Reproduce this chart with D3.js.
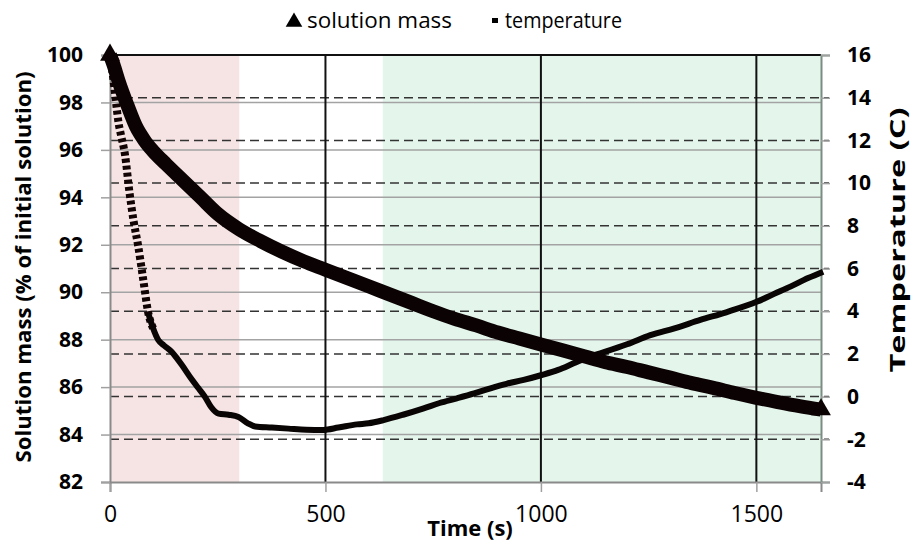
<!DOCTYPE html>
<html lang="en">
<head>
    <meta charset="UTF-8">
    <title>Solution mass and temperature</title>
    <script src="https://d3js.org/d3.v7.js"></script>
    <style>
        body { margin: 0; background: #fff; }
        text { font-family: "Open Sans", Lato, sans-serif; fill: #000; }
    </style>
</head>
<body>
<svg></svg>
<script>
    // solution mass (% of initial solution) against time (s)
    let massTime = [0, 8, 20, 40, 60, 80, 100, 130, 170, 210, 250, 300, 350, 400, 450, 500,
        550, 600, 650, 700, 750, 800, 850, 900, 950, 1000, 1050, 1100, 1150, 1200, 1250,
        1300, 1350, 1400, 1450, 1500, 1550, 1600, 1650];
    let massPct = [100, 99.6, 98.9, 97.9, 97.0, 96.4, 95.95, 95.4, 94.7, 94.0, 93.3, 92.65,
        92.15, 91.7, 91.3, 90.95, 90.6, 90.25, 89.9, 89.55, 89.2, 88.88, 88.6, 88.3, 88.05,
        87.8, 87.55, 87.3, 87.05, 86.85, 86.62, 86.4, 86.17, 85.97, 85.75, 85.55, 85.37,
        85.2, 85.05];

    // temperature (C) against time (s)
    let tempTime = [0, 5, 10, 15, 20, 25, 35, 45, 55, 65, 77, 89, 100, 112, 125, 143, 155,
        166, 190, 205, 220, 235, 252, 275, 298, 320, 337, 375, 414, 455, 495, 530, 573,
        600, 635, 680, 728, 765, 805, 845, 883, 920, 960, 1000, 1040, 1076, 1110, 1138,
        1200, 1254, 1310, 1370, 1430, 1502, 1540, 1579, 1620, 1655];
    let tempC = [16, 15.3, 14.5, 13.6, 12.8, 12.3, 11.3, 9.6, 8.2, 7.1, 5.5, 3.9, 3.2, 2.65,
        2.4, 2.1, 1.8, 1.5, 0.8, 0.4, 0, -0.5, -0.8, -0.85, -0.95, -1.25, -1.4, -1.45,
        -1.5, -1.55, -1.56, -1.45, -1.3, -1.25, -1.1, -0.85, -0.55, -0.3, -0.08, 0.15,
        0.39, 0.6, 0.78, 1.0, 1.25, 1.56, 1.85, 2.03, 2.45, 2.88, 3.2, 3.59, 3.95, 4.45,
        4.8, 5.15, 5.55, 5.85];

    // shaded periods (s)
    let periodStart = [0, 633];
    let periodEnd = [300, 1650];
    let periodColor = ["#f6e4e4", "#e4f5ec"];

    let xTicks = [0, 500, 1000, 1500];
    let leftTicks = [82, 84, 86, 88, 90, 92, 94, 96, 98, 100];
    let rightTicks = [-4, -2, 0, 2, 4, 6, 8, 10, 12, 14, 16];

    let width = 911;
    let height = 546;
    let plot = {left: 110, right: 821, top: 55, bottom: 482};

    let svg = d3.select("svg")
        .attr("width", width)
        .attr("height", height);

    let x = d3.scaleLinear().domain([0, 1650]).range([plot.left, plot.right]);
    let yL = d3.scaleLinear().domain([82, 100]).range([plot.bottom, plot.top]);
    let yR = d3.scaleLinear().domain([-4, 16]).range([plot.bottom, plot.top]);

    // shaded periods
    svg.selectAll("rect.period").data(periodStart)
        .enter().append("rect")
        .attr("x", d => x(d))
        .attr("y", plot.top)
        .attr("width", (d, i) => x(periodEnd[i]) - x(d))
        .attr("height", plot.bottom - plot.top)
        .attr("fill", (d, i) => periodColor[i]);

    // gridlines from the left axis (solid grey)
    svg.selectAll("line.gl").data(leftTicks.slice(1, -1))
        .enter().append("line")
        .attr("x1", plot.left).attr("x2", plot.right)
        .attr("y1", d => yL(d)).attr("y2", d => yL(d))
        .attr("stroke", "#a3a3a3").attr("stroke-width", 1.5);

    // gridlines from the right axis (dashed)
    svg.selectAll("line.gr").data(rightTicks.slice(1, -1))
        .enter().append("line")
        .attr("x1", plot.left).attr("x2", plot.right + 8)
        .attr("y1", d => yR(d)).attr("y2", d => yR(d))
        .attr("stroke", "#333").attr("stroke-width", 1.5)
        .attr("stroke-dasharray", "9 5");

    // vertical gridlines
    svg.selectAll("line.gx").data(xTicks.slice(1))
        .enter().append("line")
        .attr("x1", d => x(d)).attr("x2", d => x(d))
        .attr("y1", plot.top).attr("y2", plot.bottom)
        .attr("stroke", "#111").attr("stroke-width", 2);

    // top border
    svg.append("line")
        .attr("x1", plot.left).attr("x2", plot.right)
        .attr("y1", plot.top).attr("y2", plot.top)
        .attr("stroke", "#111").attr("stroke-width", 2);

    // axes
    let xAxis = svg.append("g")
        .attr("transform", "translate(0," + plot.bottom + ")")
        .call(d3.axisBottom(x).tickValues(xTicks).tickFormat(d => d).tickSize(10).tickPadding(14));
    xAxis.selectAll("text").style("font-size", "23px");

    let leftAxis = svg.append("g")
        .attr("transform", "translate(" + plot.left + ",0)")
        .call(d3.axisLeft(yL).tickValues(leftTicks).tickFormat(d => d).tickSize(9).tickPadding(18));
    leftAxis.selectAll("text").style("font-size", "21px").style("font-weight", "bold");

    let rightAxis = svg.append("g")
        .attr("transform", "translate(" + plot.right + ",0)")
        .call(d3.axisRight(yR).tickValues(rightTicks).tickFormat(d => d).tickSize(9).tickPadding(17));
    rightAxis.selectAll("text").style("font-size", "21px").style("font-weight", "bold");

    [xAxis, leftAxis, rightAxis].forEach(g => {
        g.select(".domain").attr("stroke", "#8a8a8a").attr("stroke-width", 2);
        g.selectAll(".tick line").attr("stroke", "#a0a0a0").attr("stroke-width", 1.5);
        g.selectAll("text").attr("fill", "#000");
    });
    rightAxis.select(".domain").attr("stroke", "#7b8c82");

    // temperature series
    let tempPts = tempTime.map((t, i) => [t, tempC[i]]);
    let tempLine = d3.line()
        .x(d => x(d[0]))
        .y(d => yR(d[1]))
        .curve(d3.curveMonotoneX);

    // the steep start shows as stacked dash markers
    svg.append("path")
        .attr("d", tempLine(tempPts.filter(d => d[0] <= 100)))
        .attr("fill", "none")
        .attr("stroke", "#120404")
        .attr("stroke-width", 8)
        .attr("stroke-dasharray", "4 3");

    svg.append("path")
        .attr("d", tempLine(tempPts.filter(d => d[0] >= 89)))
        .attr("fill", "none")
        .attr("stroke", "#0a0505")
        .attr("stroke-width", 6)
        .attr("stroke-linejoin", "round");

    // solution mass series
    let massPts = massTime.map((t, i) => [t, massPct[i]]);
    let massLine = d3.line()
        .x(d => x(d[0]))
        .y(d => yL(d[1]))
        .curve(d3.curveMonotoneX);

    svg.append("path")
        .attr("d", massLine(massPts))
        .attr("fill", "none")
        .attr("stroke", "#0b0303")
        .attr("stroke-width", 14)
        .attr("stroke-linejoin", "round");

    // end markers of the mass series
    let tri = d3.symbol().type(d3.symbolTriangle).size(170);
    svg.selectAll("path.endmark").data([massPts[0], massPts[massPts.length - 1]])
        .enter().append("path")
        .attr("d", tri)
        .attr("transform", d => "translate(" + x(d[0]) + "," + yL(d[1]) + ")")
        .attr("fill", "#0b0303");

    // axis titles
    svg.append("text")
        .attr("x", 470).attr("y", 536)
        .attr("text-anchor", "middle")
        .style("font-size", "22px").style("font-weight", "bold")
        .text("Time (s)");

    svg.append("text")
        .attr("transform", "translate(31,267) rotate(-90)")
        .attr("text-anchor", "middle")
        .attr("textLength", 391)
        .attr("lengthAdjust", "spacingAndGlyphs")
        .style("font-size", "21px").style("font-weight", "bold")
        .text("Solution mass (% of initial solution)");

    svg.append("text")
        .attr("transform", "translate(905,240) rotate(-90)")
        .attr("text-anchor", "middle")
        .attr("textLength", 265)
        .attr("lengthAdjust", "spacingAndGlyphs")
        .style("font-size", "21px").style("font-weight", "bold")
        .text("Temperature (C)");

    // legend
    let legend = svg.append("g");
    legend.append("path")
        .attr("d", d3.symbol().type(d3.symbolTriangle).size(120))
        .attr("transform", "translate(294,22)")
        .attr("fill", "#000");
    legend.append("text")
        .attr("x", 307).attr("y", 28)
        .attr("textLength", 145)
        .attr("lengthAdjust", "spacingAndGlyphs")
        .style("font-size", "21px")
        .text("solution mass");
    legend.append("rect")
        .attr("x", 492).attr("y", 18).attr("width", 6).attr("height", 5)
        .attr("fill", "#000");
    legend.append("text")
        .attr("x", 505).attr("y", 28)
        .attr("textLength", 117)
        .attr("lengthAdjust", "spacingAndGlyphs")
        .style("font-size", "21px")
        .text("temperature");
</script>
</body>
</html>
